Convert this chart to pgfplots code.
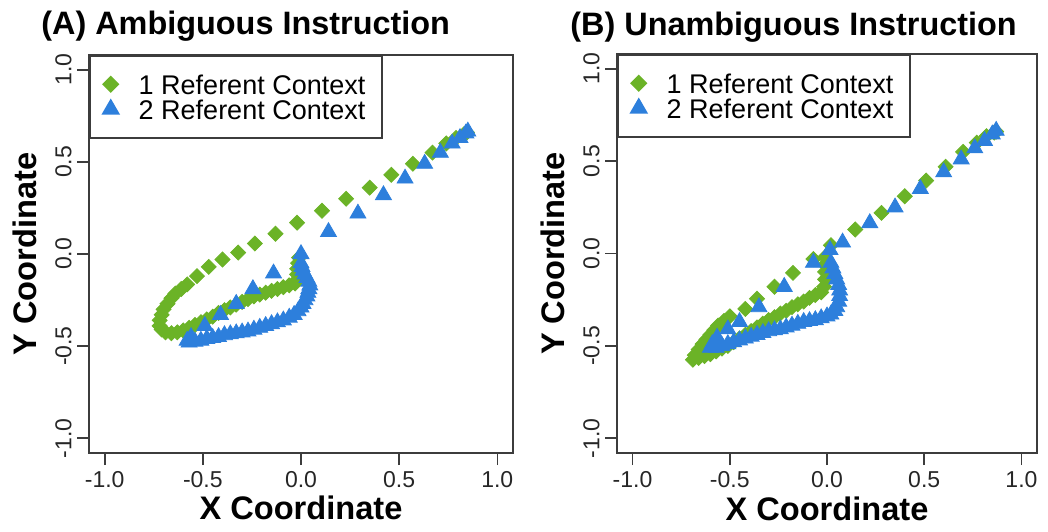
\documentclass[border=0pt]{standalone}
\usepackage{fontspec}
\setmainfont{Liberation Sans}
\usepackage{pgfplots}
\usepackage{pgfplotstable}
\pgfplotsset{compat=1.18}
\definecolor{grn}{RGB}{107,179,39}
\definecolor{blu}{RGB}{45,127,220}
\definecolor{axc}{RGB}{60,60,60}

\pgfplotstableread{
x y
-0.01 -0.02
-0.015 -0.05
-0.02 -0.08
-0.02 -0.11
-0.02 -0.14
-0.03 -0.16
-0.06 -0.17
-0.09 -0.18
-0.12 -0.19
-0.15 -0.20
-0.18 -0.21
-0.21 -0.22
-0.24 -0.23
-0.27 -0.245
-0.30 -0.26
-0.33 -0.275
-0.36 -0.29
-0.39 -0.305
-0.42 -0.32
-0.45 -0.34
-0.48 -0.355
-0.51 -0.37
-0.54 -0.385
-0.57 -0.40
-0.60 -0.415
-0.63 -0.425
-0.66 -0.43
-0.69 -0.425
-0.71 -0.41
-0.72 -0.39
-0.72 -0.36
-0.71 -0.33
-0.70 -0.30
-0.68 -0.27
-0.66 -0.24
-0.64 -0.215
-0.61 -0.19
-0.58 -0.165
-0.53 -0.12
-0.47 -0.07
-0.40 -0.03
-0.32 0.008
-0.235 0.057
-0.13 0.11
-0.02 0.17
0.107 0.235
0.23 0.30
0.35 0.36
0.46 0.43
0.57 0.49
0.67 0.55
0.74 0.60
0.79 0.63
0.83 0.65
0.845 0.66
}\greenA

\pgfplotstableread{
x y
0.0 -0.05
0.005 -0.07
0.01 -0.09
0.02 -0.11
0.03 -0.13
0.04 -0.15
0.045 -0.17
0.04 -0.19
0.035 -0.21
0.03 -0.23
0.02 -0.25
0.01 -0.27
0.0 -0.29
-0.015 -0.31
-0.035 -0.33
-0.06 -0.345
-0.09 -0.36
-0.12 -0.37
-0.15 -0.38
-0.18 -0.39
-0.21 -0.40
-0.24 -0.41
-0.27 -0.42
-0.30 -0.425
-0.33 -0.43
-0.36 -0.435
-0.39 -0.44
-0.42 -0.45
-0.45 -0.455
-0.48 -0.46
-0.51 -0.47
-0.54 -0.475
-0.57 -0.48
-0.58 -0.47
-0.56 -0.45
-0.49 -0.39
-0.41 -0.33
-0.33 -0.27
-0.245 -0.19
-0.14 -0.105
0.0 0.0
0.14 0.12
0.29 0.22
0.42 0.32
0.53 0.41
0.63 0.49
0.71 0.55
0.77 0.60
0.81 0.63
0.84 0.655
0.85 0.665
}\blueA

\pgfplotstableread{
x y
-0.01 -0.02
-0.01 -0.06
-0.01 -0.10
-0.01 -0.14
-0.015 -0.18
-0.03 -0.21
-0.06 -0.225
-0.09 -0.24
-0.12 -0.26
-0.15 -0.275
-0.18 -0.29
-0.21 -0.31
-0.24 -0.325
-0.27 -0.345
-0.30 -0.36
-0.33 -0.38
-0.36 -0.40
-0.39 -0.42
-0.42 -0.44
-0.45 -0.46
-0.48 -0.48
-0.51 -0.50
-0.54 -0.515
-0.57 -0.53
-0.60 -0.545
-0.63 -0.555
-0.66 -0.565
-0.69 -0.575
-0.68 -0.55
-0.66 -0.52
-0.64 -0.49
-0.62 -0.465
-0.60 -0.44
-0.58 -0.415
-0.56 -0.39
-0.53 -0.365
-0.50 -0.34
-0.42 -0.30
-0.36 -0.245
-0.27 -0.18
-0.175 -0.105
-0.07 -0.03
0.02 0.045
0.145 0.13
0.28 0.22
0.40 0.31
0.51 0.395
0.61 0.47
0.70 0.55
0.77 0.60
0.82 0.635
0.86 0.655
0.87 0.66
}\greenB

\pgfplotstableread{
x y
0.02 -0.05
0.03 -0.08
0.04 -0.11
0.05 -0.14
0.06 -0.17
0.065 -0.20
0.065 -0.23
0.06 -0.26
0.05 -0.29
0.04 -0.31
0.02 -0.33
0.0 -0.34
-0.03 -0.35
-0.06 -0.36
-0.09 -0.365
-0.12 -0.37
-0.15 -0.38
-0.18 -0.39
-0.21 -0.40
-0.24 -0.41
-0.27 -0.415
-0.30 -0.42
-0.33 -0.43
-0.36 -0.44
-0.39 -0.45
-0.42 -0.46
-0.45 -0.47
-0.48 -0.48
-0.51 -0.49
-0.54 -0.50
-0.57 -0.51
-0.60 -0.51
-0.59 -0.49
-0.565 -0.455
-0.51 -0.41
-0.45 -0.37
-0.35 -0.29
-0.22 -0.18
-0.07 -0.05
0.015 0.02
0.08 0.06
0.22 0.165
0.35 0.25
0.48 0.35
0.60 0.44
0.69 0.51
0.76 0.57
0.81 0.61
0.85 0.645
0.87 0.665
}\blueB

\pgfplotsset{
  panel/.style={
    scale only axis, height=199pt,
    xmin=-1.08, xmax=1.08, ymin=-1.08, ymax=1.08,
    axis line style={axc, line width=0.8pt},
    tick style={axc, line width=0.8pt},
    tick align=outside, major tick length=6pt,
    xtick pos=bottom, ytick pos=left,
    xtick={-1,-0.5,0,0.5,1}, xticklabels={-1.0,-0.5,0.0,0.5,1.0},
    ytick={-1,-0.5,0,0.5,1}, yticklabels={-1.0,-0.5,0.0,0.5,1.0},
    ticklabel style={font=\fontsize{11.5}{13}\selectfont, text=black!85},
    xticklabel style={inner sep=3pt, anchor=north},
    yticklabel style={rotate=90, anchor=south, inner sep=2.5pt},
    xlabel={X Coordinate}, ylabel={Y Coordinate},
    label style={font=\bfseries\fontsize{16.3}{18}\selectfont},
    title style={anchor=base west, inner sep=0pt, yshift=-6pt, font=\bfseries\fontsize{16.2}{18}\selectfont},
    legend style={at={(0,1)}, anchor=north west, draw=axc, line width=0.8pt, fill=white,
      inner xsep=6.5pt, inner ysep=9.4pt, row sep=2.8pt, column sep=10pt,
      font=\fontsize{13.5}{15}\selectfont, nodes={inner sep=0pt, text height=9.7pt, text depth=0pt}},
    legend cell align=left,
    legend image code/.code={\draw[##1] plot coordinates {(0pt,0pt)};},
  },
  gmark/.style={only marks, mark=square*, mark size=2.65pt, color=grn, mark options={rotate=45, draw=none, fill=grn}},
  bmark/.style={only marks, mark=triangle*, mark size=4.6pt, color=blu, mark options={draw=none, fill=blu}},
}

\begin{document}
\begin{tikzpicture}
\useasboundingbox (0,0) rectangle (524pt,-265.5pt);
\begin{axis}[panel, width=212pt, at={(44.5pt,-27.5pt)}, anchor=north west,
  title={(A) Ambiguous Instruction},
  title style={at={(axis description cs:-0.1132,1.0503)}},
  xlabel style={at={(axis description cs:0.5,-0.138)}, anchor=center},
  ylabel style={at={(axis description cs:-0.151,0.5)}, anchor=center},
  ]
\addplot[gmark] table {\greenA};
\addlegendentry{\makebox[115pt][l]{1 Referent Context}}
\addplot[bmark] table {\blueA};
\addlegendentry{\makebox[115pt][l]{2 Referent Context}}
\end{axis}
\begin{axis}[panel, width=210pt, height=199.5pt, at={(308.5pt,-27pt)}, anchor=north west,
  title={(B) Unambiguous Instruction},
  title style={at={(axis description cs:-0.1119,1.0476)}},
  xlabel style={at={(axis description cs:0.5,-0.140)}, anchor=center},
  ylabel style={at={(axis description cs:-0.152,0.5)}, anchor=center},
  ]
\addplot[gmark] table {\greenB};
\addlegendentry{\makebox[115pt][l]{1 Referent Context}}
\addplot[bmark] table {\blueB};
\addlegendentry{\makebox[115pt][l]{2 Referent Context}}
\end{axis}
\end{tikzpicture}
\end{document}
